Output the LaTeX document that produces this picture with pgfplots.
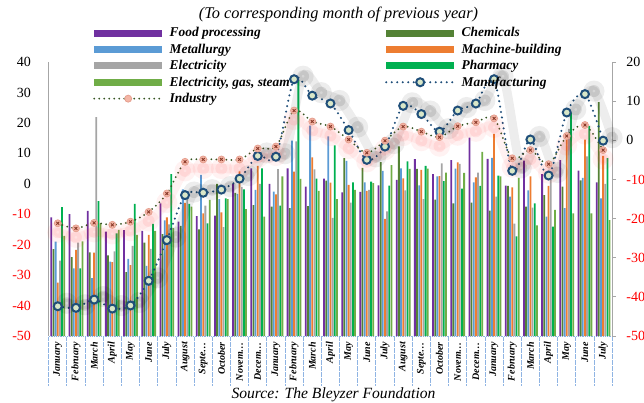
\documentclass[border=0pt]{standalone}
\usepackage{pgfplots}
\pgfplotsset{compat=1.18}
\usepackage{pgfplotstable}
\usepackage{fontspec}
\setmainfont{Liberation Serif}
\definecolor{cFood}{HTML}{7030A0}
\definecolor{cChem}{HTML}{548235}
\definecolor{cMetal}{HTML}{5B9BD5}
\definecolor{cMach}{HTML}{ED7D31}
\definecolor{cElec}{HTML}{A5A5A5}
\definecolor{cPharm}{HTML}{00B050}
\definecolor{cEgs}{HTML}{70AD47}
\definecolor{cManuf}{HTML}{1F4E79}
\definecolor{cInd}{HTML}{375623}
\definecolor{cSep}{HTML}{8FB4E3}
\definecolor{cAxis}{HTML}{A6A6A6}
\definecolor{cRed}{HTML}{FF0000}
\definecolor{cMfill}{HTML}{D9E7C8}
\definecolor{cIfill}{HTML}{F4B6A6}
\definecolor{cIdraw}{HTML}{E6A090}
\definecolor{cIx}{HTML}{8B3A2A}

\pgfplotstableread{
i  food  chem  metal mach  elec  pharm egs   manuf ind
0  -11.0 -21.5 -19.0 -32.5 -25.2 -7.7  -17.1 -42.4 -21.2
1  -10.0 -24.1 -27.8 -21.7 -19.3 -27.8 -18.9 -42.8 -22.5
2  -8.9  -22.5 -31.0 -22.6 21.9  -5.7  -13.0 -40.7 -21.1
3  -15.7 -23.5 -25.6 -25.7 -22.2 -16.3 -15.1 -43.0 -21.6
4  -15.2 -29.0 -24.7 -26.7 -20.4 -6.6  -16.8 -42.2 -20.8
5  -15.5 -19.3 -27.0 -16.8 -21.4 -13.2 -15.5 -35.9 -18.3
6  -6.4  -16.5 -12.0 -11.0 -13.3 3.2   -14.6 -25.5 -13.6
7  -12.4 -13.8 -1.8  -6.3  -5.0  -6.6  -7.5  -14.0 -5.5
8  -10.6 -15.0 2.9   -9.7  -7.2  -13.0 -5.3  -13.4 -4.9
9  -10.5 0.0   -5.0  -9.4  -14.2 -4.8  -5.0  -12.6 -4.9
10 -0.1  -3.0  -3.3  4.1   -1.0  -1.8  -8.3  -9.8  -4.9
11 5.1   -7.0  -2.0  5.9   0.0   5.1   -10.8 -4.0  -2.1
12 0.0   -7.5  -2.6  -3.5  4.8   -7.2  2.4   -4.2  -1.6
13 5.1   -8.0  14.2  4.0   13.9  34.1  1.6   15.6  7.6
14 -0.9  -7.3  19.1  8.7   4.7   1.7   -2.3  11.4  4.8
15 1.7   1.0   15.6  0.4   -11.2 12.6  -5.0  9.4   3.5
16 -2.8  8.4   7.5   -0.4  -6.2  0.5   -2.0  2.6   0.2
17 -2.7  5.2   0.5   -2.3  -2.0  0.7   0.2   -5.0  -3.2
18 -0.5  7.1   4.2   -11.5 -9.1  -0.6  6.1   -1.6  -0.1
19 1.3   12.3  5.1   1.8   -2.2  7.4   4.9   8.8   3.5
20 8.1   4.9   -0.5  4.6   -5.0  5.9   5.0   6.7   2.2
21 3.2   -5.2  2.4   2.5   6.7   0.9   3.7   2.2   0.8
22 7.8   -6.4  5.0   7.0   6.5   -1.6  3.6   7.6   3.6
23 15.2  -6.2  0.5   2.1   3.7   -0.7  10.5  9.4   4.6
24 8.2   -8.8  8.5   16.4  -4.2  2.7   2.4   15.6  5.6
25 -0.6  -0.7  -4.2  -1.2  -13.1 -17.3 1.9   -7.8  -4.6
26 7.6   -7.5  -2.2  2.4   -7.8  -6.4  -13.7 0.2   -2.5
27 3.2   -3.7  -10.8 -0.7  1.3   -14.1 -8.6  -9.0  -6.1
28 7.8   -0.9  -8.0  15.0  18.0  23.3  -9.7  7.1   1.1
29 4.3   1.1   1.9   14.5  9.0   19.0  -9.7  11.8  3.9
30 0.5   26.8  -4.8  9.2   0.0   8.4   -11.9 -0.1  -2.5
}\data

\begin{document}
\begin{tikzpicture}
\useasboundingbox (0,0) rectangle (644pt,402pt);
\node[anchor=base, font=\fontsize{16.3}{16}\selectfont\itshape, inner sep=0pt] at (338.5pt,383.5pt) {(To corresponding month of previous year)};
\node[anchor=base, font=\fontsize{15.6}{16}\selectfont\itshape, inner sep=0pt] at (333.5pt,3.6pt) {Source: The Bleyzer Foundation};

\begin{axis}[
  at={(48.7pt,66pt)}, anchor=south west,
  scale only axis, width=563.5pt, height=274pt,
  xmin=-0.5, xmax=30.5, ymin=0, ymax=90,
  axis x line*=bottom, axis y line*=left,
  axis line style={-},
  x axis line style={cSep, densely dotted, line width=0.8pt},
  y axis line style={cAxis, line width=0.8pt},
  major tick length=0pt,
  ytick={0,10,...,90},
  yticklabels={\textcolor{cRed}{-50},\textcolor{cRed}{-40},\textcolor{cRed}{-30},\textcolor{cRed}{-20},\textcolor{cRed}{-10},0,10,20,30,40},
  yticklabel style={font=\fontsize{14}{14}\selectfont, inner sep=0pt, anchor=east, xshift=-17.5pt},
  xtick={0,...,30},
  xticklabels={January,February,March,April,May,June,July,August,Septe…,October,Novem…,Decem…,January,February,March,April,May,June,July,August,Septe…,October,Novem…,Decem…,January,February,March,April,May,June,July},
  xticklabel style={font=\fontsize{10}{10}\selectfont\bfseries\itshape, rotate=90, anchor=east, inner xsep=6pt, inner ysep=0pt},
  extra x ticks={-0.5,0.5,...,30.5},
  extra x tick labels={},
  extra x tick style={major tick length=49pt, tick align=outside, tick style={draw=cSep, densely dotted, line width=0.8pt}},
  ybar, bar width=1.8pt,
  clip=false,
]
\addplot[fill=cFood,  draw=none, bar shift=-6.45pt] table[x=i, y expr=\thisrow{food}+50]{\data};
\addplot[fill=cChem,  draw=none, bar shift=-4.3pt]  table[x=i, y expr=\thisrow{chem}+50]{\data};
\addplot[fill=cMetal, draw=none, bar shift=-2.15pt] table[x=i, y expr=\thisrow{metal}+50]{\data};
\addplot[fill=cMach,  draw=none, bar shift=0pt]     table[x=i, y expr=\thisrow{mach}+50]{\data};
\addplot[fill=cElec,  draw=none, bar shift=2.15pt]  table[x=i, y expr=\thisrow{elec}+50]{\data};
\addplot[fill=cPharm, draw=none, bar shift=4.3pt]   table[x=i, y expr=\thisrow{pharm}+50]{\data};
\addplot[fill=cEgs,   draw=none, bar shift=6.45pt]  table[x=i, y expr=\thisrow{egs}+50]{\data};
\end{axis}

\begin{axis}[
  at={(48.7pt,66pt)}, anchor=south west,
  scale only axis, width=563.5pt, height=274pt,
  xmin=-0.5, xmax=30.5, ymin=-50, ymax=20,
  axis x line=none, axis y line*=right, axis line style={-},
  y axis line style={cAxis, line width=0.8pt},
  ytick={-50,-40,...,20},
  yticklabels={\textcolor{cRed}{-50},\textcolor{cRed}{-40},\textcolor{cRed}{-30},\textcolor{cRed}{-20},\textcolor{cRed}{-10},0,10,20},
  tick align=outside, major tick length=4pt,
  ytick style={draw=cAxis, line width=0.8pt},
  yticklabel style={font=\fontsize{14}{14}\selectfont, inner sep=0pt, anchor=west, xshift=10pt},
  clip=false,
  legend columns=2,
  legend cell align=left,
  legend style={draw=none, fill=none, at={(axis description cs:0.0745,1.1356)}, anchor=north west,
    font=\fontsize{13.4}{13}\selectfont\bfseries\itshape, inner sep=0pt, outer sep=0pt, row sep=0pt,
    nodes={inner sep=0pt, minimum height=16.4pt},
    /tikz/every odd column/.append style={column sep=4pt},
    /tikz/column 2/.append style={column sep=92pt}},
  legend image code/.code={\draw[mark repeat=2,mark phase=2,#1] plot coordinates {(0pt,0pt) (34pt,0pt) (68pt,0pt)};},
]
\addlegendimage{line width=7pt, cFood}
\addlegendentry{\makebox[121pt][l]{Food processing}}
\addlegendimage{line width=7pt, cChem}
\addlegendentry{Chemicals}
\addlegendimage{line width=7pt, cMetal}
\addlegendentry{\makebox[121pt][l]{Metallurgy}}
\addlegendimage{line width=7pt, cMach}
\addlegendentry{Machine-building}
\addlegendimage{line width=7pt, cElec}
\addlegendentry{\makebox[121pt][l]{Electricity}}
\addlegendimage{line width=7pt, cPharm}
\addlegendentry{Pharmacy}
\addlegendimage{line width=7pt, cEgs}
\addlegendentry{\makebox[121pt][l]{Electricity, gas, steam}}

% shadows
\addplot[forget plot, smooth, draw=black, draw opacity=0.07, line width=9pt, line cap=round, xshift=9pt, yshift=3pt,
  mark=*, mark size=6pt, mark options={fill=black, fill opacity=0.1, draw=none}] table[x=i, y=manuf]{\data};
\addplot[forget plot, smooth, draw=red, draw opacity=0.05, line width=9pt, line cap=round, yshift=-9pt,
  mark=*, mark size=6pt, mark options={fill=red!60, fill opacity=0.12, draw=none}] table[x=i, y=ind]{\data};

\addplot[smooth, color=cManuf, line width=2.3pt, dash pattern=on 0pt off 5.5pt, line cap=round,
  mark=*, mark size=4pt, mark options={solid, draw=cManuf, fill=cMfill, line width=2pt}] table[x=i, y=manuf]{\data};
\addlegendentry{Manufacturing}
\addplot[smooth, color=cInd, line width=2pt, dash pattern=on 0pt off 5pt, line cap=round,
  mark=*, mark size=3.5pt, mark options={solid, draw=cIdraw, fill=cIfill, line width=0.8pt}] table[x=i, y=ind]{\data};
\addlegendentry{\makebox[121pt][l]{Industry}}
\addplot[forget plot, only marks, mark=x, mark size=2pt, mark options={draw=cIx, line width=0.9pt}] table[x=i, y=ind]{\data};
\end{axis}
\end{tikzpicture}
\end{document}
